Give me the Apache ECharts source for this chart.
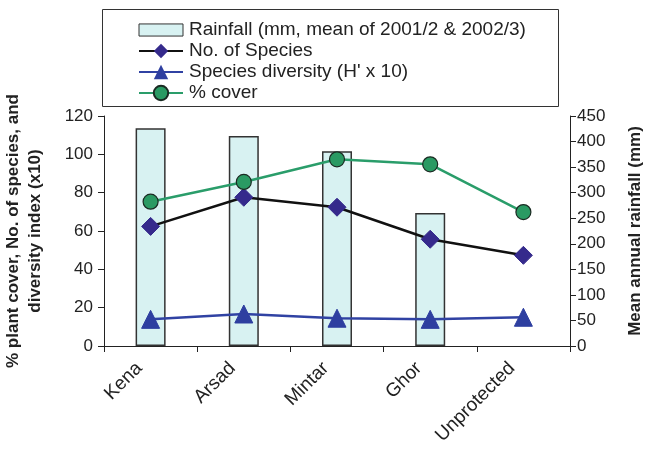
<!DOCTYPE html>
<html>
<head>
<meta charset="utf-8">
<script src="https://cdn.jsdelivr.net/npm/echarts@6/dist/echarts.min.js"></script>
<style>
html,body{margin:0;padding:0;background:#fff;}
#chart{width:646px;height:450px;}
</style>
</head>
<body>
<div id="chart"></div>
<script>
const categories = ['Kena', 'Arsad', 'Mintar', 'Ghor', 'Unprotected'];
const rainfall = [426, 411, 381, 260, null];
const noSpecies = [62.4, 77.6, 72.4, 55.7, 47.3];
const diversity = [13.9, 16.7, 14.5, 13.9, 15.0];
const cover = [75.3, 85.6, 97.4, 94.8, 69.9];
const leftTicks = {min: 0, max: 120, interval: 20};
const rightTicks = {min: 0, max: 450, interval: 50};
const names = {
  rain: 'Rainfall (mm, mean of 2001/2 & 2002/3)',
  species: 'No. of Species',
  div: "Species diversity (H' x 10)",
  cover: '% cover'
};
const leftName = '% plant cover, No. of species, and\ndiversity index (x10)';
const rightName = 'Mean annual rainfall (mm)';

const FONT = '"Liberation Sans", Arial, sans-serif';
const axisCol = '#222';
const chart = echarts.init(document.getElementById('chart'), null, {renderer: 'canvas'});
chart.setOption({
  animation: false,
  backgroundColor: '#fff',
  textStyle: {fontFamily: FONT},
  grid: {left: 104, right: 76, top: 116, bottom: 104, containLabel: false, outerBoundsMode: 'none'},
  graphic: [{
    type: 'rect', shape: {x: 102.5, y: 9.5, width: 456, height: 97},
    style: {fill: 'none', stroke: '#333', lineWidth: 1}, z: 10
  }],
  legend: {
    orient: 'vertical', left: 133, top: 15, itemWidth: 44, itemHeight: 18, itemGap: 1,
    symbolKeepAspect: true,
    textStyle: {fontFamily: FONT, fontSize: 19, color: '#222', lineHeight: 20, padding: [0, 0, 0, 1]},
    data: [
      {name: names.rain, icon: 'path://M0,0 L40,0 L40,11 L0,11 Z', itemStyle: {color: '#d8f2f2', borderColor: '#333', borderWidth: 1}},
      {name: names.species},
      {name: names.div},
      {name: names.cover}
    ]
  },
  xAxis: {
    type: 'category', data: categories, boundaryGap: true,
    axisLine: {lineStyle: {color: axisCol, width: 1}},
    axisTick: {show: true, alignWithLabel: false, length: 6, lineStyle: {color: axisCol}},
    axisLabel: {rotate: 45, fontSize: 19, color: '#222', margin: 8, fontFamily: FONT, interval: 0, padding: [0, 16, 0, 0]},
    splitLine: {show: false}
  },
  yAxis: [{
    type: 'value', position: 'left', min: leftTicks.min, max: leftTicks.max, interval: leftTicks.interval,
    name: leftName, nameLocation: 'middle', nameRotate: 90, nameGap: 58,
    nameTextStyle: {fontSize: 17, fontWeight: 'bold', color: '#222', lineHeight: 22, fontFamily: FONT},
    axisLine: {show: true, lineStyle: {color: axisCol, width: 1}},
    axisTick: {show: true, length: 6, lineStyle: {color: axisCol}},
    axisLabel: {fontSize: 17, color: '#222', margin: 11, fontFamily: FONT},
    splitLine: {show: false}
  }, {
    type: 'value', position: 'right', min: rightTicks.min, max: rightTicks.max, interval: rightTicks.interval,
    name: rightName, nameLocation: 'middle', nameRotate: 90, nameGap: 57,
    nameTextStyle: {fontSize: 17, fontWeight: 'bold', color: '#222', fontFamily: FONT},
    axisLine: {show: true, lineStyle: {color: axisCol, width: 1}},
    axisTick: {show: true, length: 6, lineStyle: {color: axisCol}},
    axisLabel: {fontSize: 17, color: '#222', margin: 7, fontFamily: FONT},
    splitLine: {show: false}
  }],
  series: [{
    name: names.rain, type: 'bar', yAxisIndex: 1, data: rainfall, barWidth: 30,
    itemStyle: {color: '#d8f2f2', borderColor: '#333', borderWidth: 1.5}, z: 1
  }, {
    name: names.species, type: 'line', yAxisIndex: 0, data: noSpecies,
    symbol: 'diamond', symbolSize: 18,
    lineStyle: {color: '#111', width: 2.5},
    itemStyle: {color: '#352a8c', borderColor: '#352a8c'}, z: 3
  }, {
    name: names.div, type: 'line', yAxisIndex: 0, data: diversity,
    symbol: 'triangle', symbolSize: 18,
    lineStyle: {color: '#3042a3', width: 2.5},
    itemStyle: {color: '#2e3fa0', borderColor: '#2e3fa0'}, z: 3
  }, {
    name: names.cover, type: 'line', yAxisIndex: 0, data: cover,
    symbol: 'circle', symbolSize: 15,
    lineStyle: {color: '#2a9d6a', width: 2.5},
    itemStyle: {color: '#2a9a63', borderColor: '#1a2a22', borderWidth: 1.2}, z: 4
  }]
});
</script>
</body>
</html>
